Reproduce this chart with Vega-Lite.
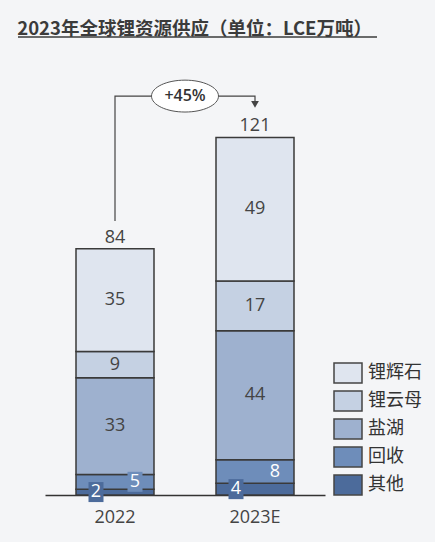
{
  "$schema": "https://vega.github.io/schema/vega-lite/v6.json",
  "width": 280,
  "height": 425,
  "autosize": {"type": "none"},
  "padding": {"left": 45, "top": 70, "right": 110, "bottom": 47},
  "background": "#f4f5f7",
  "title": {
    "text": "2023年全球锂资源供应（单位：LCE万吨）",
    "anchor": "start",
    "dx": 0,
    "offset": -2,
    "fontSize": 18.5,
    "fontWeight": "bold",
    "font": "Noto Sans CJK SC",
    "color": "#3b3b3b"
  },
  "layer": [
    {
      "data": {
        "values": [
          {"year": "2022", "series": "其他", "rank": 1, "value": 2, "total": 84},
          {"year": "2022", "series": "回收", "rank": 2, "value": 5, "total": 84},
          {"year": "2022", "series": "盐湖", "rank": 3, "value": 33, "total": 84},
          {"year": "2022", "series": "锂云母", "rank": 4, "value": 9, "total": 84},
          {"year": "2022", "series": "锂辉石", "rank": 5, "value": 35, "total": 84},
          {"year": "2023E", "series": "其他", "rank": 1, "value": 4, "total": 121},
          {"year": "2023E", "series": "回收", "rank": 2, "value": 8, "total": 121},
          {"year": "2023E", "series": "盐湖", "rank": 3, "value": 44, "total": 121},
          {"year": "2023E", "series": "锂云母", "rank": 4, "value": 17, "total": 121},
          {"year": "2023E", "series": "锂辉石", "rank": 5, "value": 49, "total": 121}
        ]
      },
      "transform": [
        {"stack": "value", "groupby": ["year"], "sort": [{"field": "rank", "order": "ascending"}], "as": ["v0", "v1"]},
        {"calculate": "(datum.v0 + datum.v1) / 2", "as": "mid"}
      ],
      "layer": [
        {
          "mark": {"type": "bar", "width": 78, "stroke": "#3a3a3a", "strokeWidth": 1.5},
          "encoding": {
            "x": {
              "field": "year", "type": "nominal",
              "scale": {"domain": ["2022", "2023E"], "paddingInner": 0.44, "paddingOuter": 0.22},
              "axis": {"title": null}
            },
            "y": {"field": "v0", "type": "quantitative", "scale": {"domain": [0, 145], "nice": false, "zero": true}},
            "y2": {"field": "v1"},
            "color": {
              "field": "series", "type": "nominal",
              "scale": {
                "domain": ["锂辉石", "锂云母", "盐湖", "回收", "其他"],
                "range": ["#dfe5ef", "#c5d1e3", "#9eb1cf", "#6e8dba", "#4c6b9b"]
              },
              "legend": {
                "orient": "none", "legendX": 288, "legendY": 288, "title": null,
                "symbolType": "M-1,-0.71H1V0.71H-1Z", "symbolSize": 784,
                "symbolStrokeColor": "#444", "symbolStrokeWidth": 1.5, "symbolOpacity": 1,
                "labelFontSize": 18, "labelFont": "Noto Sans CJK SC", "labelColor": "#333",
                "labelOffset": 5, "rowPadding": 0, "padding": 0
              }
            }
          }
        },
        {
          "transform": [{"filter": "datum.rank >= 3"}],
          "mark": {"type": "text", "fontSize": 18, "font": "Open Sans", "color": "#444", "baseline": "middle"},
          "encoding": {
            "x": {"field": "year", "type": "nominal"},
            "y": {"field": "mid", "type": "quantitative"},
            "text": {"field": "value"}
          }
        },
        {
          "transform": [{"filter": "datum.rank == 1"}],
          "mark": {"type": "point", "shape": "M-0.75,-1H0.75V1H-0.75Z", "size": 400, "filled": true, "opacity": 1, "color": "#4c6b9b", "strokeWidth": 0, "xOffset": -19},
          "encoding": {
            "x": {"field": "year", "type": "nominal"},
            "y": {"field": "mid", "type": "quantitative"}
          }
        },
        {
          "transform": [{"filter": "datum.rank == 2"}],
          "mark": {"type": "point", "shape": "M-0.75,-1H0.75V1H-0.75Z", "size": 400, "filled": true, "opacity": 1, "color": "#6e8dba", "strokeWidth": 0, "xOffset": 20},
          "encoding": {
            "x": {"field": "year", "type": "nominal"},
            "y": {"field": "mid", "type": "quantitative"}
          }
        },
        {
          "transform": [{"filter": "datum.rank == 1"}],
          "mark": {"type": "text", "fontSize": 18, "font": "Open Sans", "color": "#ffffff", "baseline": "middle", "xOffset": -19},
          "encoding": {
            "x": {"field": "year", "type": "nominal"},
            "y": {"field": "mid", "type": "quantitative"},
            "text": {"field": "value"}
          }
        },
        {
          "transform": [{"filter": "datum.rank == 2"}],
          "mark": {"type": "text", "fontSize": 18, "font": "Open Sans", "color": "#ffffff", "baseline": "middle", "xOffset": 20},
          "encoding": {
            "x": {"field": "year", "type": "nominal"},
            "y": {"field": "mid", "type": "quantitative"},
            "text": {"field": "value"}
          }
        },
        {
          "transform": [{"aggregate": [{"op": "max", "field": "v1", "as": "top"}, {"op": "max", "field": "total", "as": "total"}], "groupby": ["year"]}],
          "mark": {"type": "text", "fontSize": 18, "font": "Open Sans", "color": "#444", "baseline": "alphabetic", "dy": -6},
          "encoding": {
            "x": {"field": "year", "type": "nominal"},
            "y": {"field": "top", "type": "quantitative"},
            "text": {"field": "total"}
          }
        }
      ]
    },
    {
      "data": {
        "values": [
          {"step": 1, "year": "2022", "y": 93.5},
          {"step": 2, "year": "2022", "y": 136.1},
          {"step": 3, "year": "2023E", "y": 136.1},
          {"step": 4, "year": "2023E", "y": 132.8}
        ]
      },
      "mark": {"type": "line", "color": "#444", "strokeWidth": 1.2},
      "encoding": {
        "x": {"field": "year", "type": "nominal"},
        "y": {"field": "y", "type": "quantitative"},
        "order": {"field": "step"}
      }
    },
    {
      "data": {"values": [{"year": "2023E", "y": 133.3}]},
      "mark": {"type": "point", "shape": "triangle-down", "size": 60, "filled": true, "opacity": 1, "color": "#444"},
      "encoding": {
        "x": {"field": "year", "type": "nominal"},
        "y": {"field": "y", "type": "quantitative"}
      }
    },
    {
      "data": {"values": [{"year": "2022", "y": 136.1, "label": "+45%"}]},
      "layer": [
        {
          "mark": {"type": "point", "shape": "M-1.05,0A1.05,0.5,0,1,0,1.05,0A1.05,0.5,0,1,0,-1.05,0Z", "size": 4070, "filled": false, "fill": "#ffffff", "fillOpacity": 1, "opacity": 1, "stroke": "#555", "strokeWidth": 1, "xOffset": 70},
          "encoding": {
            "x": {"field": "year", "type": "nominal"},
            "y": {"field": "y", "type": "quantitative"}
          }
        },
        {
          "mark": {"type": "text", "fontSize": 16, "fontWeight": 600, "font": "Open Sans", "color": "#333", "baseline": "middle", "xOffset": 70},
          "encoding": {
            "x": {"field": "year", "type": "nominal"},
            "y": {"field": "y", "type": "quantitative"},
            "text": {"field": "label"}
          }
        }
      ]
    },
    {
      "data": {"values": [{"from": "2022", "to": "2023E", "y": 156.3}]},
      "mark": {"type": "rule", "color": "#3b3b3b", "strokeWidth": 1.5, "xOffset": -97, "x2Offset": 122},
      "encoding": {
        "x": {"field": "from", "type": "nominal"},
        "x2": {"field": "to"},
        "y": {"field": "y", "type": "quantitative"}
      }
    }
  ],
  "config": {
    "view": {"stroke": null},
    "axisY": {"disable": true},
    "axisX": {
      "title": null, "grid": false, "ticks": false, "labelAngle": 0,
      "domainColor": "#333", "domainWidth": 1.5,
      "labelFontSize": 18, "labelFont": "Open Sans", "labelColor": "#444", "labelPadding": 13
    }
  }
}
